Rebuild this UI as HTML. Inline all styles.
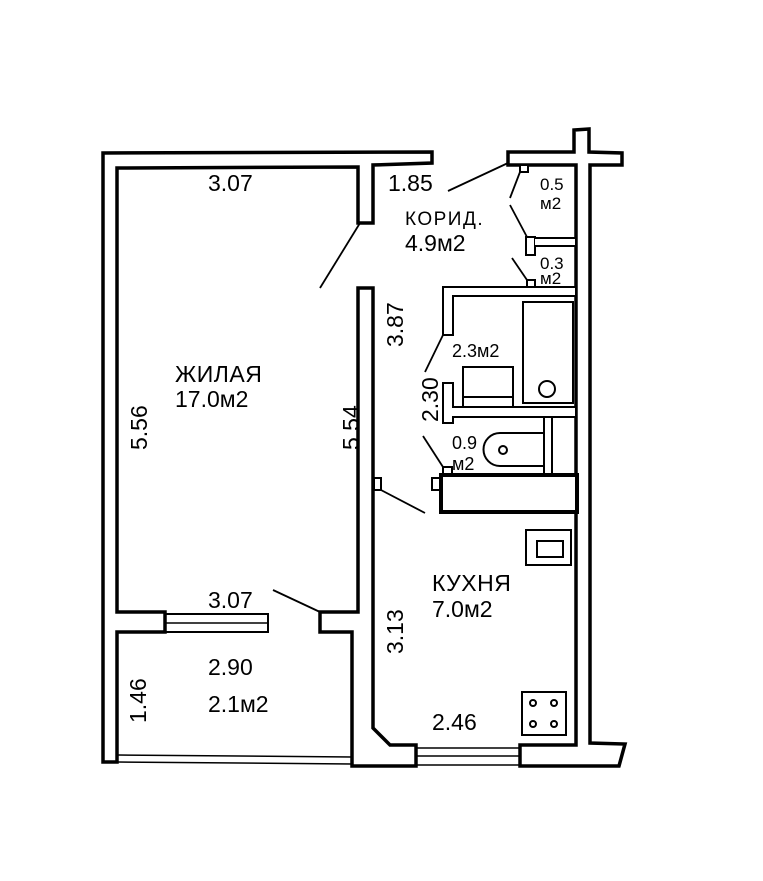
<!DOCTYPE html>
<html><head><meta charset="utf-8"><style>
html,body{margin:0;padding:0;background:#fff}
svg{display:block}
text{font-family:"Liberation Sans","DejaVu Sans",sans-serif;fill:#000}
</style></head><body>
<svg width="763" height="881" viewBox="0 0 763 881" xmlns="http://www.w3.org/2000/svg">
<rect width="763" height="881" fill="#fff"/>
<g fill="#fff" stroke="#000" stroke-width="3.5" stroke-linejoin="miter">
<path d="M103,762 L103,153 L432,152 L432,163 L373,165 L373,223 L358,223 L358,167 L117,168 L117,612 L165,612 L165,632 L117,632 L117,762 Z"/>
<path d="M320,612 L358,612 L358,288 L373,288 L373,728 L390,745 L416,745 L416,766 L352,766 L352,632 L320,632 Z"/>
<path d="M508,152 L574,152 L574,130 L589,129 L589,152 L622,153 L622,165 L590,165 L590,743 L625,744 L619,766 L520,766 L520,745 L576,745 L576,165 L508,165 Z"/>
</g>
<g fill="none" stroke="#000" stroke-width="2">
<rect x="165" y="614" width="103" height="18"/>
<line x1="165" y1="623" x2="268" y2="623" stroke-width="1.5"/>
<line x1="416" y1="748" x2="520" y2="748" stroke-width="1.5"/>
<line x1="416" y1="756" x2="520" y2="756" stroke-width="1.5"/>
<line x1="416" y1="765" x2="520" y2="765" stroke-width="1.5"/>
<line x1="118" y1="755" x2="352" y2="757" stroke-width="1.5"/>
<line x1="118" y1="762" x2="352" y2="764" stroke-width="1.5"/>
</g>
<g fill="#fff" stroke="#000" stroke-width="2">
<path d="M443,287 L576,287 L576,296 L453,296 L453,335 L443,335 Z"/>
<path d="M443,383 L453,383 L453,407 L576,407 L576,417 L453,417 L453,423 L443,423 Z"/>
<rect x="523" y="302" width="50" height="101"/>
<circle cx="547" cy="389" r="8"/>
<rect x="463" y="367" width="50" height="40"/>
<line x1="463" y1="397" x2="513" y2="397"/>
<rect x="544" y="417" width="8" height="58"/>
<path d="M543,433 L500,433 A16,16 0 0 0 500,466 L543,466"/>
<circle cx="503" cy="450" r="4"/>
<rect x="443" y="467" width="9" height="8"/>
<rect x="432" y="478" width="9" height="12"/>
<rect x="374" y="478" width="7" height="12"/>
<rect x="526" y="237" width="9" height="18"/>
<path d="M535,238 L576,238 L576,246 L535,246"/>
<rect x="520" y="165" width="8" height="7"/>
<rect x="527" y="280" width="8" height="7"/>
<rect x="526" y="530" width="45" height="35"/>
<rect x="537" y="541" width="26" height="16"/>
<rect x="522" y="692" width="44" height="43"/>
<circle cx="533" cy="703" r="3"/><circle cx="554" cy="703" r="3"/>
<circle cx="533" cy="724" r="3"/><circle cx="554" cy="724" r="3"/>
</g>
<rect x="441" y="475" width="136" height="37" fill="#fff" stroke="#000" stroke-width="4"/>
<g stroke="#000" stroke-width="1.8">
<line x1="360" y1="223" x2="320" y2="288"/>
<line x1="273" y1="590" x2="320" y2="612"/>
<line x1="448" y1="191" x2="508" y2="163"/>
<line x1="520" y1="172" x2="510" y2="198"/>
<line x1="510" y1="205" x2="527" y2="237"/>
<line x1="512" y1="258" x2="527" y2="280"/>
<line x1="443" y1="335" x2="425" y2="372"/>
<line x1="423" y1="436" x2="443" y2="467"/>
<line x1="381" y1="490" x2="425" y2="513"/>
</g>
<g font-size="23">
<text x="208" y="191">3.07</text>
<text x="388" y="191">1.85</text>
<text x="405" y="225" font-size="19" letter-spacing="1.5">КОРИД.</text>
<text x="405" y="251">4.9м2</text>
<text x="540" y="190" font-size="17">0.5</text>
<text x="540" y="209" font-size="17">м2</text>
<text x="540" y="269" font-size="17">0.3</text>
<text x="540" y="284" font-size="17">м2</text>
<text x="175" y="382" letter-spacing="0.5">ЖИЛАЯ</text>
<text x="175" y="407">17.0м2</text>
<text transform="translate(147,450) rotate(-90)">5.56</text>
<text transform="translate(359,450) rotate(-90)">5.54</text>
<text transform="translate(403,347) rotate(-90)">3.87</text>
<text x="452" y="357" font-size="18">2.3м2</text>
<text transform="translate(438,422) rotate(-90)">2.30</text>
<text x="452" y="449" font-size="18">0.9</text>
<text x="452" y="470" font-size="18">м2</text>
<text x="432" y="591" letter-spacing="0.5">КУХНЯ</text>
<text x="432" y="617">7.0м2</text>
<text transform="translate(403,654) rotate(-90)">3.13</text>
<text x="208" y="608">3.07</text>
<text x="208" y="675">2.90</text>
<text x="208" y="712">2.1м2</text>
<text transform="translate(146,723) rotate(-90)">1.46</text>
<text x="432" y="730">2.46</text>
</g>
</svg>
</body></html>
